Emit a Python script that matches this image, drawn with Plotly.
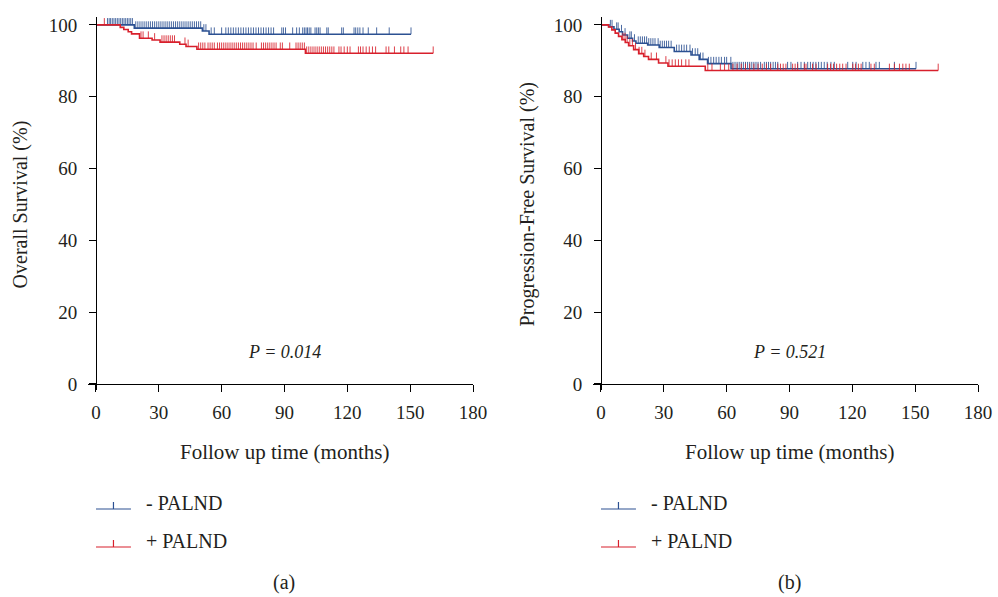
import plotly.graph_objects as go
import numpy as np

# ---------------- DATA ----------------
# Panel (a) Overall survival: step change times (months) and survival (%)
os_neg_t = [0, 18.3, 50.8, 54.0]
os_neg_s = [100, 99.1, 98.3, 97.4]
os_neg_end = 150.4
os_pos_t = [0, 11.6, 13.3, 15.4, 17.0, 20.8, 26.8, 30.6, 40.0, 43.0, 48.2, 100.0]
os_pos_s = [100, 99.3, 98.7, 98.1, 97.5, 96.3, 95.8, 95.2, 94.6, 94.0, 93.2, 92.1]
os_pos_end = 161.0

os_neg_cens = [5.5, 6.3, 7.0, 7.8, 8.6, 9.4, 10.2, 11.0, 11.8, 12.6, 13.4, 14.2, 15.0, 15.8, 16.6, 17.4,
               19.0, 20.0, 21.0, 22.0, 23.0, 24.0, 25.0, 26.0, 27.0, 28.0, 29.0, 30.0, 31.0, 32.0, 33.0,
               34.0, 35.0, 36.0, 37.0, 38.0, 39.0, 40.0, 41.0, 42.0, 43.0, 44.0, 45.0, 46.0, 47.0, 48.0,
               49.0, 50.0, 51.5, 52.5, 55.0, 56.5, 60.0, 62.0, 63.2, 64.4, 65.6, 66.8, 68.0, 69.2, 70.4,
               71.6, 72.8, 74.0, 75.2, 76.4, 77.6, 78.8, 80.0, 81.2, 82.4, 83.6, 84.8, 88.7, 89.5, 90.5,
               93.9, 95.8, 97.1, 98.7, 99.5, 100.3, 101.0, 101.8, 102.6, 104.6, 105.4, 106.2, 107.0,
               110.2, 110.9, 117.3, 118.1, 123.2, 124.0, 125.0, 126.0, 127.5, 130.0, 134.0, 140.0, 150.4]
os_pos_cens = [4.0, 21.5, 22.5, 25.0, 28.0, 31.5, 32.5, 33.5, 34.5, 35.5, 36.5, 37.5, 42.5, 44.0,
               49.0, 50.0, 51.0, 52.0, 53.5, 54.5, 55.5, 56.5, 58.0, 59.0, 60.0, 61.0, 62.0, 63.0, 64.0,
               65.0, 66.0, 67.0, 68.0, 69.0, 70.0, 71.0, 72.0, 73.0, 74.0, 75.0, 76.5, 79.0, 80.0, 81.0,
               82.0, 83.0, 84.0, 85.0, 86.0, 88.0, 89.0, 92.5, 95.5, 96.5, 97.5, 98.5, 99.5, 100.6,
               101.6, 102.6, 103.6, 104.6, 105.6, 106.6, 107.6, 108.6, 109.6, 110.6, 111.6, 112.6,
               113.6, 116.0, 117.0, 118.5, 120.0, 121.3, 125.3, 126.3, 127.5, 129.0, 130.5, 132.0,
               133.5, 138.5, 139.8, 142.5, 145.5, 147.0, 149.0, 161.0]

# Panel (b) Progression-free survival
pfs_neg_t = [0, 3.8, 6.2, 8.7, 10.3, 12.7, 15.1, 16.7, 22.3, 27.8, 35.0, 43.0, 46.9, 50.9, 62.1]
pfs_neg_s = [100, 99.5, 98.8, 98.1, 97.2, 96.3, 95.5, 94.9, 94.4, 93.7, 92.6, 91.6, 90.4, 89.2, 87.8]
pfs_neg_end = 150.4
pfs_pos_t = [0, 3.6, 5.2, 6.8, 8.4, 10.0, 11.6, 13.2, 15.6, 18.0, 20.4, 22.7, 27.5, 32.0, 49.8]
pfs_pos_s = [100, 99.4, 98.6, 97.7, 96.8, 95.9, 95.1, 94.2, 93.1, 92.0, 91.2, 90.4, 89.4, 88.5, 87.3]
pfs_pos_end = 161.0

pfs_neg_cens = [4.5, 5.3, 7.5, 8.2, 9.8, 11.5, 13.8, 14.5, 16.0, 17.8, 18.8, 19.8, 20.8, 21.8, 22.8,
                23.8, 24.8, 25.8, 27.3, 28.3, 29.3, 30.3, 31.3, 32.3, 33.5, 36.1, 37.3, 38.5, 39.7, 40.9,
                42.5, 43.7, 45.0, 46.2, 47.5, 48.7, 51.3, 52.5, 53.8, 55.0, 56.3, 57.5, 59.0, 60.0, 62.0,
                63.0, 64.0, 65.0, 66.0, 67.0, 68.0, 69.0, 70.0, 71.0, 72.0, 73.0, 74.0, 75.0, 76.2,
                78.0, 79.0, 80.0, 81.0, 82.2, 83.3, 84.4, 89.1, 90.7, 93.9, 95.5, 97.1, 98.7, 100.0,
                101.3, 102.6, 103.9, 105.2, 106.6, 108.0, 109.8, 111.4, 117.8, 120.2, 121.8, 125.0,
                126.5, 128.1, 131.3, 132.9, 140.1, 150.4]
pfs_pos_cens = [10.5, 11.5, 12.5, 13.8, 15.0, 16.5, 18.2, 19.5, 21.0, 24.0, 26.5, 31.0, 32.5, 34.0,
                35.5, 37.0, 38.5, 40.5, 42.0, 51.0, 53.0, 57.0, 59.0, 61.0, 63.0, 65.0, 67.0, 69.0,
                71.0, 73.0, 75.0, 77.0, 79.0, 81.0, 84.4, 85.7, 87.0, 88.3, 91.5, 92.7, 93.9, 97.1,
                97.9, 101.0, 102.7, 108.2, 109.6, 111.0, 112.5, 114.0, 115.4, 117.0, 120.2, 121.5,
                122.9, 124.2, 128.9, 130.5, 137.7, 140.1, 142.5, 144.1, 145.6, 147.2, 161.0]

x_ticks = [0, 30, 60, 90, 120, 150, 180]
y_ticks = [0, 20, 40, 60, 80, 100]
p_values = ["P = 0.014", "P = 0.521"]
y_titles = ["Overall Survival (%)", "Progression-Free Survival (%)"]
x_title = "Follow up time (months)"
series_names = ["- PALND", "+ PALND"]
panel_labels = ["(a)", "(b)"]

# ---------------- STYLE ----------------
BLUE = "#2C5192"
RED = "#D8202C"
FONT = "Liberation Serif, Times New Roman, serif"
TXT = "#231F20"
FS_TICK = 19
FS_TEXT = 20
OFF = 0
W, H = 998, 597
XR = [-3.8, 180]
YR = [-1.7, 102.2]
TICK_H = 1.9


def pxx(px):  # window pixel -> paper x
    return (px - OFF) / W


def pxy(py):  # window pixel -> paper y
    return 1 - (py - OFF) / H


fig = go.Figure()


def surv_at(t_list, s_list, t):
    idx = np.searchsorted(np.array(t_list), t, side="right") - 1
    return s_list[max(idx, 0)]


def add_curve(t_list, s_list, end, cens, color, xa, ya):
    xs = list(t_list) + [end]
    ys = list(s_list) + [s_list[-1]]
    fig.add_trace(go.Scatter(x=xs, y=ys, mode="lines", line=dict(color=color, width=1.6, shape="hv"),
                             xaxis=xa, yaxis=ya, showlegend=False, hoverinfo="skip"))
    cx, cy = [], []
    for c in cens:
        s = surv_at(t_list, s_list, c)
        cx += [c, c, None]
        cy += [s, s + TICK_H, None]
    fig.add_trace(go.Scatter(x=cx, y=cy, mode="lines", line=dict(color=color, width=1),
                             xaxis=xa, yaxis=ya, showlegend=False, hoverinfo="skip", opacity=0.85))


add_curve(os_neg_t, os_neg_s, os_neg_end, os_neg_cens, BLUE, "x", "y")
add_curve(os_pos_t, os_pos_s, os_pos_end, os_pos_cens, RED, "x", "y")
add_curve(pfs_neg_t, pfs_neg_s, pfs_neg_end, pfs_neg_cens, BLUE, "x2", "y2")
add_curve(pfs_pos_t, pfs_pos_s, pfs_pos_end, pfs_pos_cens, RED, "x2", "y2")

xdoms = [[pxx(88), pxx(473)], [pxx(593), pxx(978)]]
ydom = [pxy(390), pxy(17)]


def frac(v, rng, dom):
    return dom[0] + (v - rng[0]) / (rng[1] - rng[0]) * (dom[1] - dom[0])


layout = dict(width=W, height=H, margin=dict(l=0, r=0, t=0, b=0, autoexpand=False),
              paper_bgcolor="white", plot_bgcolor="white", showlegend=False,
              font=dict(family=FONT, size=FS_TEXT, color=TXT))
for i, sfx in enumerate(["", "2"]):
    xd = xdoms[i]
    common = dict(showgrid=False, zeroline=False, showline=True, linecolor="black", linewidth=1,
                  ticks="outside", ticklen=7, tickwidth=1, tickcolor="black", automargin=False,
                  tickfont=dict(family=FONT, size=FS_TICK, color=TXT), anchor="free")
    layout["xaxis" + sfx] = dict(common, domain=xd, range=XR, tickvals=x_ticks,
                                 position=frac(0, YR, ydom), ticklabelstandoff=4)
    layout["yaxis" + sfx] = dict(common, domain=ydom, range=YR, tickvals=y_ticks,
                                 position=frac(0, XR, xd), ticklabelstandoff=8)
fig.update_layout(**layout)

ytitle_px = [20, 527]
ann = []
shapes = []
for i, sfx in enumerate(["", "2"]):
    xd = xdoms[i]
    x0p = frac(0, XR, xd)
    x0px = x0p * W + OFF
    # P value
    ann.append(dict(x=90, y=9, xref="x" + sfx, yref="y" + sfx, text="<i>" + p_values[i] + "</i>",
                    xanchor="center", yanchor="middle", showarrow=False,
                    font=dict(family=FONT, size=18, color=TXT)))
    # x title
    ann.append(dict(x=90, y=pxy(452), xref="x" + sfx, yref="paper", text=x_title,
                    xanchor="center", yanchor="middle", showarrow=False,
                    font=dict(family=FONT, size=21, color=TXT)))
    # y title
    ann.append(dict(x=pxx(ytitle_px[i]), y=50, xref="paper", yref="y" + sfx, text=y_titles[i],
                    textangle=-90, xanchor="center", yanchor="middle", showarrow=False,
                    font=dict(family=FONT, size=FS_TEXT, color=TXT)))
    # panel label
    ann.append(dict(x=90, y=pxy(582), xref="x" + sfx, yref="paper", text=panel_labels[i],
                    xanchor="center", yanchor="middle", showarrow=False,
                    font=dict(family=FONT, size=FS_TEXT, color=TXT)))
    # legend
    for j, (nm, col) in enumerate(zip(series_names, [BLUE, RED])):
        ly = pxy(509 + 38 * j)
        shapes.append(dict(type="line", xref="paper", yref="paper", x0=pxx(x0px), x1=pxx(x0px + 35),
                           y0=ly, y1=ly, line=dict(color=col, width=1.2)))
        shapes.append(dict(type="line", xref="paper", yref="paper", x0=pxx(x0px + 17.5),
                           x1=pxx(x0px + 17.5), y0=ly, y1=pxy(509 + 38 * j - 7),
                           line=dict(color=col, width=1.2)))
        ann.append(dict(x=pxx(x0px + 48), y=pxy(503 + 38 * j), xref="paper", yref="paper",
                        text=nm, xanchor="left", yanchor="middle", showarrow=False,
                        font=dict(family=FONT, size=FS_TEXT, color=TXT)))
fig.update_layout(annotations=ann, shapes=shapes)

fig.write_html("out.html", config={"displayModeBar": False},
               post_script="document.body.style.margin='0';document.body.style.overflow='hidden';")
